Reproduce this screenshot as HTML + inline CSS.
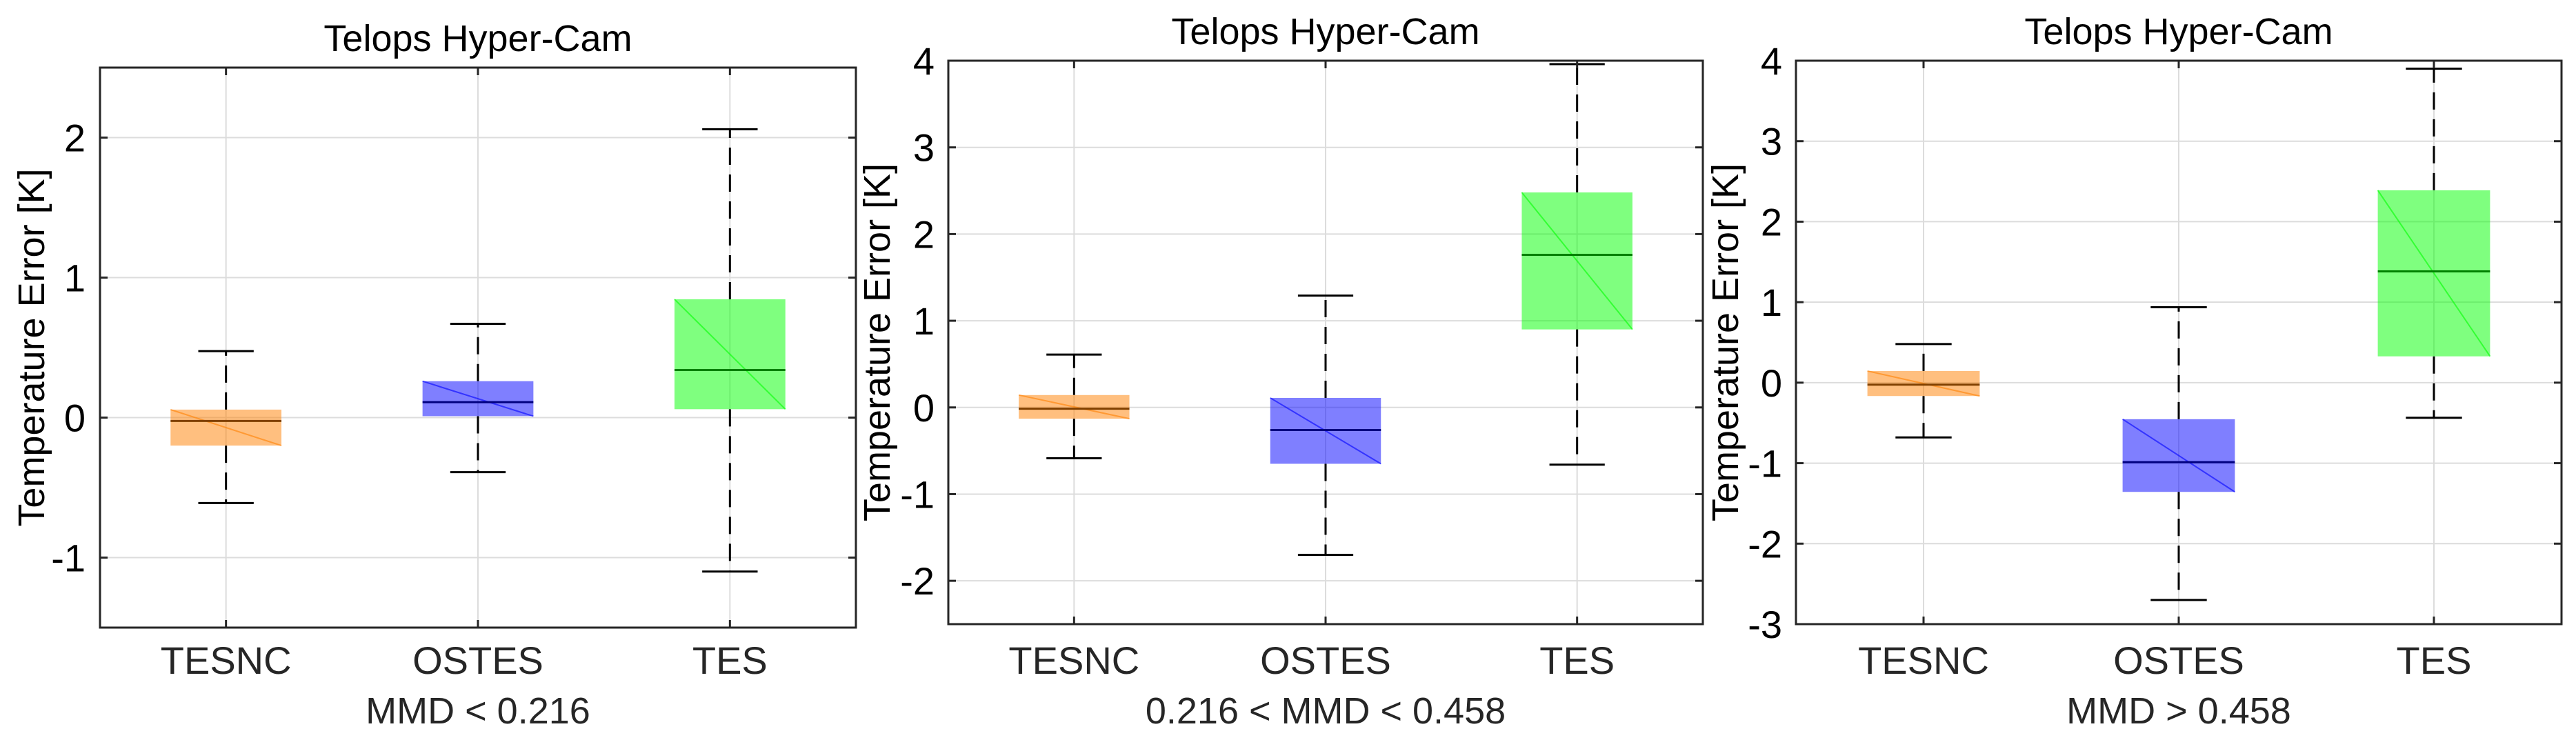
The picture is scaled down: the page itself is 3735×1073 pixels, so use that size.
<!DOCTYPE html>
<html><head><meta charset="utf-8"><style>
html,body{margin:0;padding:0;background:#fff;}
svg{display:block;font-family:"Liberation Sans",Arial,sans-serif;}
</style></head><body>
<svg id="fig" width="3735" height="1073" viewBox="0 0 3735 1073" xmlns="http://www.w3.org/2000/svg"></svg>
<script>
const categories = ["TESNC","OSTES","TES"];
const panelTitles = ["Telops Hyper-Cam","Telops Hyper-Cam","Telops Hyper-Cam"];
const panelXLabels = ["MMD < 0.216","0.216 < MMD < 0.458","MMD > 0.458"];
// per panel: [whiskerLow, q1, median, q3, whiskerHigh] for each category
const panel1Stats = [[-0.61,-0.20,-0.024,0.057,0.475],[-0.39,0.01,0.11,0.26,0.67],[-1.10,0.06,0.34,0.845,2.06]];
const panel2Stats = [[-0.587,-0.13,-0.015,0.143,0.61],[-1.70,-0.65,-0.26,0.11,1.29],[-0.66,0.90,1.76,2.48,3.96]];
const panel3Stats = [[-0.68,-0.166,-0.025,0.145,0.48],[-2.70,-1.357,-0.988,-0.454,0.937],[-0.436,0.327,1.383,2.39,3.90]];
const panel1Ticks = [-1,0,1,2];
const panel2Ticks = [-2,-1,0,1,2,3,4];
const panel3Ticks = [-3,-2,-1,0,1,2,3,4];
const panel1YLim = [-1.5,2.5];
const panel2YLim = [-2.5,4];
const panel3YLim = [-3,4];

const fills = ["#ff8000","#0000ff","#00ff00"];
const medians = ["#804000","#000080","#008000"];
const NS = "http://www.w3.org/2000/svg";
const svg = document.getElementById("fig");
function mk(tag, attrs, parent){ const e=document.createElementNS(NS,tag); for(const k in attrs) e.setAttribute(k,attrs[k]); (parent||svg).appendChild(e); return e; }

const layouts = [
  {l:145,r:1241,t:98,b:910,ylabX:46,tickR:124},
  {l:1375,r:2469,t:88,b:905,ylabX:1272,tickR:1355},
  {l:2604,r:3714,t:88,b:905,ylabX:2502,tickR:2584}
];
const stats = [panel1Stats,panel2Stats,panel3Stats];
const ticks = [panel1Ticks,panel2Ticks,panel3Ticks];
const ylims = [panel1YLim,panel2YLim,panel3YLim];

layouts.forEach((L,p)=>{
  const g = mk("g",{});
  
  
  const yl = ylims[p];
  const y = v => L.b - (v-yl[0])/(yl[1]-yl[0])*(L.b-L.t);
  const x = i => L.l + (i+1-0.5)/3*(L.r-L.l);
  const unit = (L.r-L.l)/3;
  ticks[p].forEach(t=>{
    const gl = mk("line",{x1:L.l,x2:L.r,y1:y(t),y2:y(t),stroke:"#dcdcdc","stroke-width":2},g);
    
    
  });
  categories.forEach((c,i)=>{
    const gl = mk("line",{x1:x(i),x2:x(i),y1:L.t,y2:L.b,stroke:"#dcdcdc","stroke-width":2},g);
    
    
  });
  categories.forEach((c,i)=>{
    const s = stats[p][i];
    const cx = x(i), bw = 0.44*unit, cw = 0.22*unit;
    const wl = mk("line",{x1:cx,x2:cx,y1:y(s[1]),y2:y(s[0]),stroke:"#000","stroke-width":3,"stroke-dasharray":"25 14"},g);
    
    
    const wh = mk("line",{x1:cx,x2:cx,y1:y(s[3]),y2:y(s[4]),stroke:"#000","stroke-width":3,"stroke-dasharray":"25 14"},g);
    
    
    [0,4].forEach(k=>{
      const cap = mk("line",{x1:cx-cw/2,x2:cx+cw/2,y1:y(s[k]),y2:y(s[k]),stroke:"#000","stroke-width":3},g);
      
      
    });
    const box = mk("rect",{x:cx-bw/2,y:y(s[3]),width:bw,height:y(s[1])-y(s[3]),fill:fills[i],"fill-opacity":0.5},g);
    
    
    const dg = mk("line",{x1:cx-bw/2,y1:y(s[3]),x2:cx+bw/2,y2:y(s[1]),stroke:fills[i],"stroke-opacity":0.6,"stroke-width":2},g);
    
    
    const md = mk("line",{x1:cx-bw/2,x2:cx+bw/2,y1:y(s[2]),y2:y(s[2]),stroke:medians[i],"stroke-width":3},g);
    
    
    const tl = mk("text",{x:cx,y:977,"text-anchor":"middle","font-size":56,fill:"#262626"},g);
    tl.textContent = c;
    
    
    [L.b,L.t].forEach((yy,k)=>{
      const tk = mk("line",{x1:cx,x2:cx,y1:yy,y2:k?yy+11:yy-11,stroke:"#262626","stroke-width":3},g);
      
      
    });
  });
  ticks[p].forEach(t=>{
    const tl = mk("text",{x:L.tickR,y:y(t)+20,"text-anchor":"end","font-size":56,fill:"#000"},g);
    tl.textContent = t<0 ? "-"+Math.abs(t) : String(t);
    
    
    [[L.l,L.l+11],[L.r,L.r-11]].forEach(a=>{
      const tk = mk("line",{x1:a[0],x2:a[1],y1:y(t),y2:y(t),stroke:"#262626","stroke-width":3},g);
      
      
    });
  });
  const fr = mk("rect",{x:L.l,y:L.t,width:L.r-L.l,height:L.b-L.t,fill:"none",stroke:"#262626","stroke-width":3},g);
  
  
  const cxm = (L.l+L.r)/2;
  const tt = mk("text",{x:cxm,y:L.t-24,"text-anchor":"middle","font-size":54,fill:"#000"},g);
  tt.textContent = panelTitles[p];
  
  
  const xl = mk("text",{x:cxm,y:1049,"text-anchor":"middle","font-size":54,fill:"#262626"},g);
  xl.textContent = panelXLabels[p];
  
  
  const cy = (L.t+L.b)/2;
  const yt = mk("text",{x:L.ylabX,y:cy,"text-anchor":"middle","font-size":54,fill:"#000","dominant-baseline":"central",transform:"rotate(-90 "+L.ylabX+" "+cy+")"},g);
  yt.textContent = "Temperature Error [K]";
  
  
});
</script>
</body></html>
